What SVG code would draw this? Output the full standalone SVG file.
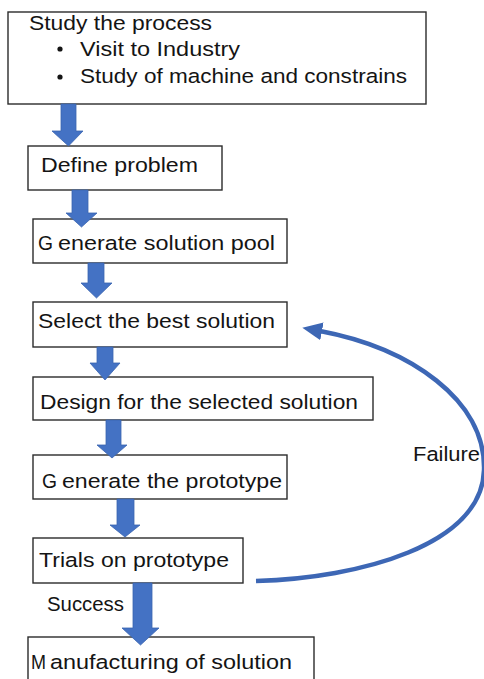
<svg xmlns="http://www.w3.org/2000/svg" width="484" height="679" viewBox="0 0 484 679">
  <style>
    .box { fill: #ffffff; stroke: #2b2b2b; stroke-width: 1.4; }
    .lbl { font-family: "Liberation Sans", Arial, sans-serif; font-size: 20.5px; fill: #141414; }
    .blk { fill: #4472c4; stroke: #3a64b0; stroke-width: 0.8; }
    .loop { fill: none; stroke: #3d67b5; stroke-width: 4.5; }
  </style>
  <defs>
    <marker id="loopHead" markerUnits="userSpaceOnUse" viewBox="0 0 20 18" refX="2" refY="9" markerWidth="20" markerHeight="18" orient="auto">
      <path d="M0,0 L20,9 L0,18 z" fill="#3d67b5"/>
    </marker>
  </defs>

  <rect width="484" height="679" fill="#ffffff"/>

  <!-- nodes -->
  <g id="study">
    <rect class="box" x="8" y="12" width="418" height="92"/>
    <text class="lbl" x="29" y="29.5" textLength="183" lengthAdjust="spacingAndGlyphs">Study the process</text>
    <circle cx="60" cy="49" r="2.6" fill="#141414"/>
    <text class="lbl" x="80" y="56" textLength="160" lengthAdjust="spacingAndGlyphs">Visit to Industry</text>
    <circle cx="60" cy="77" r="2.6" fill="#141414"/>
    <text class="lbl" x="80" y="83" textLength="327" lengthAdjust="spacingAndGlyphs">Study of machine and constrains</text>
  </g>

  <g id="define">
    <rect class="box" x="28" y="146" width="194" height="44"/>
    <text class="lbl" x="41" y="171.5" textLength="157" lengthAdjust="spacingAndGlyphs">Define problem</text>
  </g>

  <g id="pool">
    <rect class="box" x="33" y="219" width="254" height="44"/>
    <text class="lbl" y="250"><tspan x="38" textLength="15" lengthAdjust="spacingAndGlyphs">G</tspan><tspan x="58" textLength="217" lengthAdjust="spacingAndGlyphs">enerate solution pool</tspan></text>
  </g>

  <g id="select">
    <rect class="box" x="33" y="302" width="254" height="45"/>
    <text class="lbl" x="38" y="328" textLength="237" lengthAdjust="spacingAndGlyphs">Select the best solution</text>
  </g>

  <g id="design">
    <rect class="box" x="33" y="377" width="340" height="43"/>
    <text class="lbl" x="40" y="409" textLength="318" lengthAdjust="spacingAndGlyphs">Design for the selected solution</text>
  </g>

  <g id="prototype">
    <rect class="box" x="33" y="455" width="254" height="44"/>
    <text class="lbl" y="488"><tspan x="42" textLength="15" lengthAdjust="spacingAndGlyphs">G</tspan><tspan x="62" textLength="220" lengthAdjust="spacingAndGlyphs">enerate the prototype</tspan></text>
  </g>

  <g id="trials">
    <rect class="box" x="33" y="538" width="210" height="45"/>
    <text class="lbl" x="39" y="567" textLength="190" lengthAdjust="spacingAndGlyphs">Trials on prototype</text>
  </g>

  <g id="manufacturing">
    <rect class="box" x="28" y="637" width="286" height="60"/>
    <text class="lbl" y="669"><tspan x="31" textLength="15" lengthAdjust="spacingAndGlyphs">M</tspan><tspan x="50" textLength="242" lengthAdjust="spacingAndGlyphs">anufacturing of solution</tspan></text>
  </g>

  <!-- connectors -->
  <g id="connectors">
    <polygon class="blk" points="61,104 76,104 76,131 83,131 68.5,146 52,131 61,131"/>
    <polygon class="blk" points="72,190 88,190 88,213 97,213 81.5,227 66,213 72,213"/>
    <polygon class="blk" points="88,263 104,263 104,283 112,283 96.5,298 81,283 88,283"/>
    <polygon class="blk" points="97,347 113,347 113,363 120,363 105,380 90,363 97,363"/>
    <polygon class="blk" points="106,420 121,420 121,445 127,445 112,458 97,445 106,445"/>
    <polygon class="blk" points="117,499 134,499 134,525 140,525 125,537 110,525 117,525"/>
    <polygon class="blk" points="133,583 152,583 152,628 159,628 140.5,645 122,628 133,628"/>

    <path class="loop" d="M256,581 C360,578 482,545 484,470 C486,400 410,348 320,331" marker-end="url(#loopHead)"/>

    <text class="lbl" x="47" y="611" textLength="77" lengthAdjust="spacingAndGlyphs">Success</text>
    <text class="lbl" x="413" y="461" textLength="67" lengthAdjust="spacingAndGlyphs">Failure</text>
  </g>
</svg>
